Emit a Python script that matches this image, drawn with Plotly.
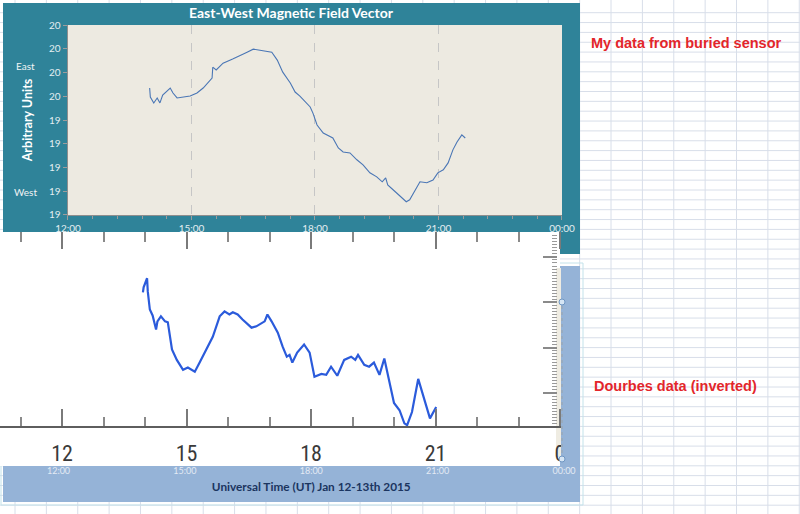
import plotly.graph_objects as go

DAY = "2015-01-12 "
NEXT = "2015-01-13 "

# ---- My data from buried sensor (East-West, arbitrary units) ----
sensor_times = ["13:59", "14:00", "14:05", "14:10", "14:14", "14:18", "14:29", "14:33", "14:39", "14:48",
                "14:58", "15:08", "15:17", "15:30", "15:31", "15:36", "15:46", "16:00", "16:11", "16:21",
                "16:30", "16:44", "16:57", "17:05", "17:13", "17:24", "17:31", "17:38", "17:53", "17:57",
                "18:03", "18:12", "18:22", "18:26", "18:34", "18:41", "18:51", "19:01", "19:10", "19:20",
                "19:30", "19:38", "19:43", "19:46", "19:57", "20:07", "20:13", "20:18", "20:26", "20:33",
                "20:43", "20:52", "20:59", "21:07", "21:14", "21:21", "21:27", "21:34", "21:39"]
sensor_values = [19.585, 19.547, 19.522, 19.543, 19.522, 19.555, 19.585, 19.564, 19.543, 19.547,
                 19.551, 19.564, 19.585, 19.627, 19.673, 19.661, 19.690, 19.707, 19.724, 19.736,
                 19.749, 19.741, 19.736, 19.703, 19.652, 19.606, 19.568, 19.551, 19.505, 19.479,
                 19.429, 19.395, 19.378, 19.374, 19.332, 19.315, 19.311, 19.282, 19.261, 19.227,
                 19.210, 19.189, 19.206, 19.176, 19.147, 19.122, 19.105, 19.113, 19.155, 19.189,
                 19.185, 19.197, 19.227, 19.240, 19.269, 19.324, 19.357, 19.387, 19.374]

# ---- Dourbes data (inverted) ----
dourbes_times = ["13:57", "13:58", "14:03", "14:04", "14:07", "14:11", "14:16", "14:18", "14:23", "14:29",
                 "14:33", "14:39", "14:46", "14:55", "15:02", "15:08", "15:12", "15:19", "15:31", "15:38",
                 "15:48", "15:55", "16:02", "16:07", "16:14", "16:21", "16:34", "16:41", "16:53", "16:57",
                 "17:03", "17:12", "17:19", "17:25", "17:29", "17:33", "17:40", "17:50", "17:58", "18:05",
                 "18:15", "18:22", "18:29", "18:38", "18:48", "18:58", "19:04", "19:08", "19:17", "19:24",
                 "19:31", "19:39", "19:46", "19:53", "20:00", "20:08", "20:15", "20:19", "20:26", "20:35",
                 "20:41", "20:46", "20:52", "21:01"]
dourbes_values = [32.2, 33.3, 35.3, 32.4, 28.4, 27.1, 24.0, 25.8, 26.9, 25.8,
                  25.6, 19.6, 17.3, 15.1, 15.6, 15.1, 14.7, 16.7, 20.2, 22.4,
                  26.9, 28.0, 27.3, 27.8, 27.3, 26.2, 24.4, 24.7, 25.8, 27.3,
                  25.8, 23.3, 20.2, 18.0, 18.4, 16.7, 18.9, 20.7, 18.9, 13.6,
                  14.2, 14.0, 15.8, 13.8, 17.3, 18.0, 17.3, 18.4, 16.2, 15.8,
                  16.7, 14.0, 17.6, 12.9, 7.8, 6.2, 3.3, 2.9, 5.8, 13.1,
                  10.0, 7.8, 4.4, 6.9]

top_title = "East-West Magnetic Field Vector"
y_title = "Arbitrary Units"
x_title = "Universal Time (UT) Jan 12-13th 2015"
note_top = "My data from buried sensor"
note_bottom = "Dourbes data (inverted)"
east_label, west_label = "East", "West"

W, H = 800, 514


def X(p):
    return p / W


def Y(p):
    return 1 - p / H


TEAL = "#2F8399"
BEIGE = "#EDEAE1"
BLUE = "#95B3D7"
GRID = "#D8DEE9"
CALIBRI = "Lato, Open Sans, sans-serif"
ARIAL = "Liberation Sans, Arial, sans-serif"
NARROW = "Liberation Sans Narrow, Roboto Condensed, Roboto, sans-serif"
H3 = 3 * 3600 * 1000

fig = go.Figure()
fig.add_trace(go.Scatter(x=[DAY + t for t in sensor_times], y=sensor_values, mode="lines",
                         line=dict(color="#4A76B5", width=1.1), xaxis="x", yaxis="y",
                         showlegend=False, hoverinfo="skip"))
fig.add_trace(go.Scatter(x=[DAY + t for t in dourbes_times], y=dourbes_values, mode="lines",
                         line=dict(color="#2B5BDB", width=2.2), xaxis="x2", yaxis="y2",
                         showlegend=False, hoverinfo="skip"))
fig.add_trace(go.Scatter(x=[], y=[], xaxis="x3", yaxis="y3", showlegend=False))
fig.add_trace(go.Scatter(x=[], y=[], xaxis="x4", yaxis="y2", showlegend=False))

shapes = []
# spreadsheet grid
k = 0
while True:
    gx = 15 + 31.37 * k
    if gx > W:
        break
    shapes.append(dict(type="line", xref="paper", yref="paper", x0=X(gx), x1=X(gx), y0=0, y1=1,
                       line=dict(color=GRID, width=1), layer="below"))
    k += 1
k = 0
while True:
    gy = 12.7 + 9.85 * k
    if gy > H:
        break
    shapes.append(dict(type="line", xref="paper", yref="paper", x0=0, x1=1, y0=Y(gy), y1=Y(gy),
                       line=dict(color=GRID, width=1), layer="below"))
    k += 1


def rect(x0, y0, x1, y1, fill, line=None, lw=0, layer="below"):
    return dict(type="rect", xref="paper", yref="paper", x0=X(x0), x1=X(x1), y0=Y(y1), y1=Y(y0),
                fillcolor=fill, line=dict(color=line or fill, width=lw), layer=layer)


shapes.append(rect(3, 3, 580, 254, TEAL))
shapes.append(rect(68, 25, 562, 215, BEIGE))
shapes.append(rect(1, 263, 583, 505, "rgba(0,0,0,0)", "#C3E2EA", 1))
shapes.append(rect(3, 266, 580, 502, BLUE))
shapes.append(rect(0, 232, 560, 466, "#FFFFFF"))
shapes.append(rect(556, 268, 561, 457, "#EFECE2"))
# blue chart edge showing in front of the pasted picture's right border
shapes.append(rect(561, 420, 580, 466, BLUE, layer="above"))
shapes.append(dict(type="line", xref="paper", yref="paper", x0=X(562), x1=X(562), y0=Y(459), y1=Y(302),
                   line=dict(color="#9AA3AA", width=1, dash="dot"), layer="above"))
for hy in (302, 459):
    shapes.append(dict(type="circle", xref="paper", yref="paper", x0=X(559), x1=X(565), y0=Y(hy + 3),
                       y1=Y(hy - 3), fillcolor="#D6E6F5", line=dict(color="#6F96C2", width=1), layer="above"))

top_range = [DAY + "11:59:30", NEXT + "00:00:30"]
px_per_min_top = 494 / 720.0
pad_top = 0.5 * px_per_min_top

# Dourbes axis: 12h -> 498 px, 12:00 at x=62
d_px_per_h = 41.5
d_left_h = 12 - 62 / d_px_per_h
d_right_px = 562
d_right_h = 12 + (d_right_px - 62) / d_px_per_h


def hstr(h):
    total = int(round(h * 3600))
    day = NEXT if total >= 24 * 3600 else DAY
    total %= 24 * 3600
    return day + "%02d:%02d:%02d" % (total // 3600, (total % 3600) // 60, total % 60)


d_range = [hstr(d_left_h), hstr(d_right_h)]


def note(text, x, y, font):
    return dict(text=text, x=X(x), y=Y(y), xref="paper", yref="paper", showarrow=False,
                xanchor="center", yanchor="middle", font=font)


fig.update_layout(
    width=W, height=H, margin=dict(l=0, r=0, t=0, b=0, autoexpand=False),
    paper_bgcolor="#FFFFFF", plot_bgcolor="rgba(0,0,0,0)",
    showlegend=False, shapes=shapes,
    title=dict(text="<b>" + top_title + "</b>", x=X(291), y=Y(13), xref="paper", yref="paper",
               xanchor="center", yanchor="middle", font=dict(family=CALIBRI, size=14, color="#FFFFFF")),
    xaxis=dict(domain=[X(68 - pad_top), X(562 + pad_top)], anchor="y", type="date", range=top_range,
               automargin=False,
               tick0=DAY + "00:00", dtick=H3, tickformat="%H:%M",
               ticks="outside", ticklen=4, tickcolor="#9C9C9C", showline=True, linecolor="#8E8E8E",
               showgrid=True, gridcolor="#C6C6C6", griddash="dash", gridwidth=1, zeroline=False,
               minor=dict(dtick=36 * 60 * 1000, ticks="outside", ticklen=3, tickcolor="#9C9C9C", showgrid=False),
               tickfont=dict(family=CALIBRI, size=10, color="#E4EEF1")),
    yaxis=dict(domain=[Y(215), Y(25)], anchor="x", range=[19.049, 19.851], tick0=19.05, dtick=0.1,
               automargin=False,
               tickformat=".0f", ticks="outside", ticklen=4, tickcolor="#9C9C9C",
               showline=True, linecolor="#8E8E8E", showgrid=False, zeroline=False,
               tickfont=dict(family=CALIBRI, size=10, color="#E4EEF1"),
               title=dict(text="<b>" + y_title + "</b>", standoff=13,
                          font=dict(family=CALIBRI, size=12.5, color="#FFFFFF"))),
    xaxis2=dict(domain=[0, X(d_right_px)], anchor="y2", type="date", automargin=False,
                range=d_range, tick0=DAY + "00:00", dtick=H3,
                tickformat="%-H", ticks="inside", ticklen=17, tickwidth=2, tickcolor="#7A7A7A",
                showline=True, linecolor="#5E5E5E", linewidth=2, showgrid=False, zeroline=False,
                minor=dict(dtick=3600 * 1000, ticks="inside", ticklen=9, tickwidth=2, tickcolor="#8A8A8A",
                           showgrid=False),
                tickfont=dict(family=NARROW, size=22, color="#3A3A3A"), ticklabelstandoff=7),
    xaxis4=dict(overlaying="x2", anchor="y2", side="top", type="date", automargin=False,
                range=d_range, tick0=DAY + "00:00", dtick=H3,
                ticks="inside", ticklen=17, tickwidth=2, tickcolor="#7A7A7A", showticklabels=False,
                showline=False, showgrid=False, zeroline=False,
                minor=dict(dtick=3600 * 1000, ticks="inside", ticklen=10, tickwidth=2, tickcolor="#8A8A8A",
                           showgrid=False)),
    yaxis2=dict(domain=[Y(426), Y(232)], anchor="free", position=X(557), side="right",
                range=[2.72, 45.5], automargin=False,
                tick0=0, dtick=10, ticks="inside", ticklen=14, tickwidth=2, tickcolor="#8A8A8A",
                showticklabels=False, showline=False, showgrid=False, zeroline=False,
                minor=dict(dtick=10 / 15.0, ticks="inside", ticklen=5, tickwidth=1, tickcolor="#9A9A9A",
                           showgrid=False)),
    xaxis3=dict(domain=[X(58.5 - 0.35), X(564 + 0.35)], anchor="y3", type="date", automargin=False,
                range=top_range, tick0=DAY + "00:00", dtick=H3, tickformat="%H:%M", ticks="",
                showline=False, showgrid=False, zeroline=False, ticklabelstandoff=3,
                tickfont=dict(family=CALIBRI, size=9, color="#E3EAF4"),
                title=dict(text="<b>" + x_title + "</b>", standoff=7,
                           font=dict(family=CALIBRI, size=11.8, color="#1B3560"))),
    yaxis3=dict(domain=[Y(461), Y(440)], anchor="x3", visible=False, range=[0, 1]),
    annotations=[
        note(east_label, 25, 66, dict(family=CALIBRI, size=10, color="#F0F4F5")),
        note(west_label, 25, 192, dict(family=CALIBRI, size=10, color="#F0F4F5")),
        note("<b>" + note_top + "</b>", 686, 43, dict(family=ARIAL, size=14.5, color="#E3262B")),
        note("<b>" + note_bottom + "</b>", 675, 386, dict(family=ARIAL, size=14.5, color="#E3262B")),
    ],
)

fig.write_html("out.html")
